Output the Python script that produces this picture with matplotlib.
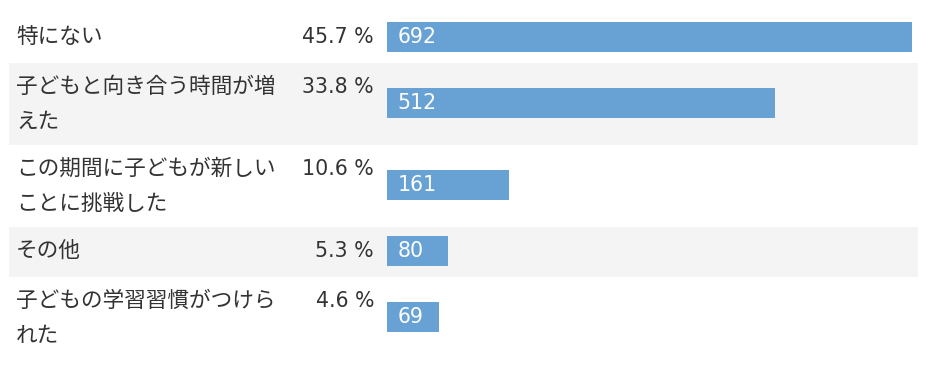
import matplotlib
matplotlib.use("Agg")
import matplotlib.pyplot as plt
from matplotlib.patches import Rectangle

plt.rcParams['font.family'] = ['Noto Sans CJK JP', 'DejaVu Sans']

# data
labels = ["特にない",
          "子どもと向き合う時間が増\nえた",
          "この期間に子どもが新しい\nことに挑戦した",
          "その他",
          "子どもの学習習慣がつけら\nれた"]
percents = [45.7, 33.8, 10.6, 5.3, 4.6]
counts = [692, 512, 161, 80, 69]

bar_color = "#68a2d4"
band_color = "#f4f4f4"
text_color = "#333333"

W, H = 940, 369
fig = plt.figure(figsize=(W / 100, H / 100), dpi=100)

# background axes in pixel coordinates (rows, labels, percents)
bg = fig.add_axes([0, 0, 1, 1])
bg.set_xlim(0, W)
bg.set_ylim(H, 0)
bg.axis("off")

# bar axes: x from 387px to 912px maps 0..max(counts)
x0, x1 = 387, 912
bars = fig.add_axes([x0 / W, 0, (x1 - x0) / W, 1])
bars.set_xlim(0, max(counts))
bars.set_ylim(H, 0)
bars.axis("off")
bars.patch.set_alpha(0)

top = 13
centers = []
for i, lab in enumerate(labels):
    lines = lab.split("\n")
    h = 50 if len(lines) == 1 else 82
    if i % 2 == 1:
        bg.add_patch(Rectangle((9, top), 909, h, color=band_color, lw=0, zorder=0))
    for k, ln in enumerate(lines):
        bg.text(16, top + 24 + 35 * k, ln, fontsize=15.6, color=text_color,
                ha="left", va="center")
    bg.text(374, top + 24, f"{percents[i]:.1f} %", fontsize=14.8,
            family="DejaVu Sans", color=text_color, ha="right", va="center")
    centers.append(top + h / 2 - 1)
    top += h

bars.barh(centers, counts, height=30, left=0, color=bar_color, zorder=2)
for c, v in zip(centers, counts):
    bars.annotate(str(v), (0, c), xytext=(7.5, 0), textcoords="offset points",
                  fontsize=14.8, family="DejaVu Sans", color="white",
                  ha="left", va="center", zorder=3)

fig.savefig("out.png", dpi=100)
